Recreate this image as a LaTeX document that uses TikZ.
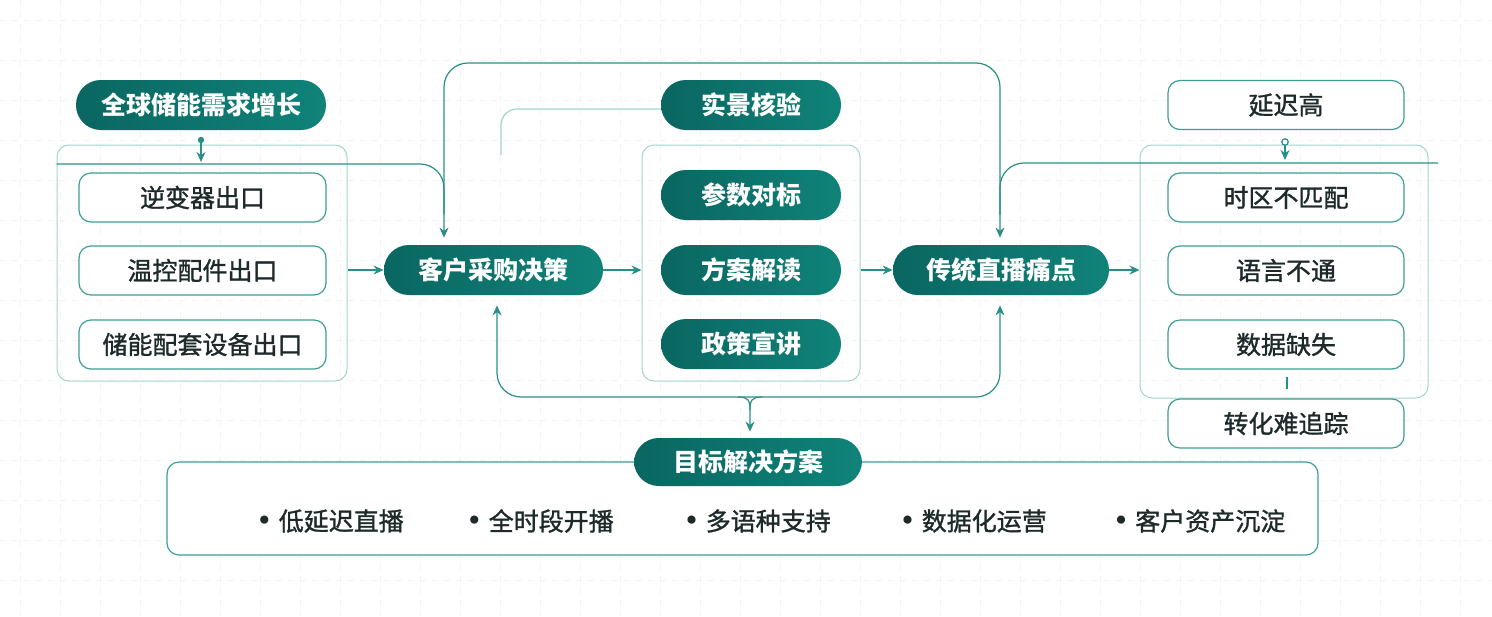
\documentclass[tikz,border=0pt]{standalone}
\usepackage{fontspec}
\setmainfont{Noto Sans CJK SC}
\newfontfamily\medfont[FakeBold=1.2]{Noto Sans CJK SC}
\newfontfamily\dotfont{DejaVu Sans}
\usetikzlibrary{arrows.meta,calc}
\definecolor{pillA}{HTML}{0A6661}
\definecolor{pillB}{HTML}{108379}
\definecolor{edgec}{HTML}{3E9E95}
\definecolor{grpc}{HTML}{A3D5CD}
\definecolor{linkc}{HTML}{2A8F86}
\definecolor{gridc}{HTML}{F1F4F4}
\definecolor{txtc}{HTML}{1E2A2A}
\tikzset{
  pill/.style={rounded corners=12.4pt, left color=pillA, right color=pillB, draw=none,
    text=white, font=\fontsize{12.5}{14}\selectfont\bfseries, minimum height=25pt, inner sep=0pt},
  obox/.style={rounded corners=6pt, draw=edgec, line width=0.6pt, fill=white, text=txtc,
    font=\fontsize{12.5}{14}\selectfont\medfont, minimum height=24.5pt, minimum width=123.5pt, inner sep=0pt},
  grp/.style={rounded corners=6pt, draw=grpc, line width=0.5pt, inner sep=0pt},
  link/.style={draw=linkc, line width=0.6pt},
  arr/.style={link, -{Stealth[length=5pt,width=4.5pt]}},
  bul/.style={text=txtc, font=\fontsize{12.5}{14}\selectfont\medfont, inner sep=0pt}
}
\newcommand{\bdot}{{\dotfont\fontsize{14}{14}\selectfont •}\hspace{3pt}}
\begin{document}
\begin{tikzpicture}[x=0.5pt,y=-0.5pt]
\useasboundingbox (0,0) rectangle (1492,616);
\fill[white] (0,0) rectangle (1492,616);
\foreach \gx in {20,60,...,1480} \draw[gridc, line width=0.3pt, dashed] (\gx,0) -- (\gx,616);
\foreach \gy in {20,60,...,600} \draw[gridc, line width=0.3pt, dashed] (0,\gy) -- (1492,\gy);

% groups
\node[grp, minimum width=145pt, minimum height=118pt] (lgrp) at (202,263) {};
\node[grp, minimum width=109pt, minimum height=118pt] (mgrp) at (751,263) {};
\node[grp, minimum width=144pt, minimum height=126.5pt] (rgrp) at (1284,271.5) {};
\node[obox, minimum width=575.5pt, minimum height=46.5pt] (bbox) at (742.5,508.5) {};

% left column
\node[pill, minimum width=125pt] (glob) at (201,105) {全球储能需求增长};
\node[obox] (l1) at (202.5,197.5) {逆变器出口};
\node[obox] (l2) at (202.5,270.5) {温控配件出口};
\node[obox] (l3) at (202.5,344.5) {储能配套设备出口};

% main flow
\node[pill, minimum width=109.5pt] (cust) at (493.5,270) {客户采购决策};
\node[pill, minimum width=90pt] (real) at (751,105) {实景核验};
\node[pill, minimum width=90pt] (m1) at (751,195) {参数对标};
\node[pill, minimum width=90pt] (m2) at (751,270) {方案解读};
\node[pill, minimum width=90pt] (m3) at (751,344) {政策宣讲};
\node[pill, minimum width=108pt] (pain) at (1001,270) {传统直播痛点};

% right column
\node[obox, minimum width=118pt] (r0) at (1286,105) {延迟高};
\node[obox, minimum width=118pt] (r1) at (1286,197.5) {时区不匹配};
\node[obox, minimum width=118pt] (r2) at (1286,270.5) {语言不通};
\node[obox, minimum width=118pt] (r3) at (1286,344.5) {数据缺失};
\node[obox, minimum width=118pt] (r4) at (1286,423.5) {转化难追踪};

% solution
\node[pill, minimum width=114pt, minimum height=24pt] (sol) at (748,462) {目标解决方案};
\node[bul] (s1) at (330,521) {\bdot 低延迟直播};
\node[bul] (s2) at (540,521) {\bdot 全时段开播};
\node[bul] (s3) at (757,521) {\bdot 多语种支持};
\node[bul] (s4) at (973,521) {\bdot 数据化运营};
\node[bul] (s5) at (1199,521) {\bdot 客户资产沉淀};

% flow arrows
\draw[arr] (lgrp.east |- cust.west) -- (cust.west);
\draw[arr] (cust.east) -- (mgrp.west |- cust.east);
\draw[arr] (mgrp.east |- pain.west) -- (pain.west);
\draw[arr] (pain.east) -- (rgrp.west |- pain.east);

% top loop
\coordinate (tl) at (444,63);
\coordinate (tr) at (1000,63);
\draw[link, {Stealth[length=5pt,width=4.5pt]}-{Stealth[length=5pt,width=4.5pt]}, rounded corners=12pt, shorten <=3.5pt, shorten >=3.5pt]
  (cust.north -| tl) -- (tl) -- (tr) -- (pain.north -| tr);
% side feeds
\draw[link, rounded corners=12pt] (lgrp.west |- 0,164) -| ($(cust.north -| tl)+(0,-30)$);
\draw[link, rounded corners=12pt] (1438,163) -| ($(pain.north -| tr)+(0,-30)$);

% small connectors
\fill[linkc] (201,140) circle (1.6pt);
\draw[arr] (201,140) -- (201,162);
\draw[linkc, line width=0.6pt, fill=white] (1285,142) circle (1.6pt);
\draw[arr] (1285,145) -- (1285,160);
\draw[linkc, line width=1pt] (1287,377) -- (1287,389);

% 实景核验 faint link
\draw[grpc, line width=0.6pt, rounded corners=8pt] (real.west |- 0,109) -- (501,109) -- (501,155);

% bottom loop
\coordinate (bl) at (497,397);
\coordinate (br) at (1000,397);
\draw[link, {Stealth[length=5pt,width=4.5pt]}-{Stealth[length=5pt,width=4.5pt]}, rounded corners=12pt, shorten <=5pt, shorten >=5pt]
  (cust.south -| bl) -- (bl) -- (br) -- (pain.south -| br);
\draw[arr] (738,397) .. controls (748,397) and (750,400) .. (750,410) -- ($(sol.north -| 750,0)+(0,-6)$);
\draw[link] (762,397) .. controls (752,397) and (750,400) .. (750,410);
\end{tikzpicture}
\end{document}
